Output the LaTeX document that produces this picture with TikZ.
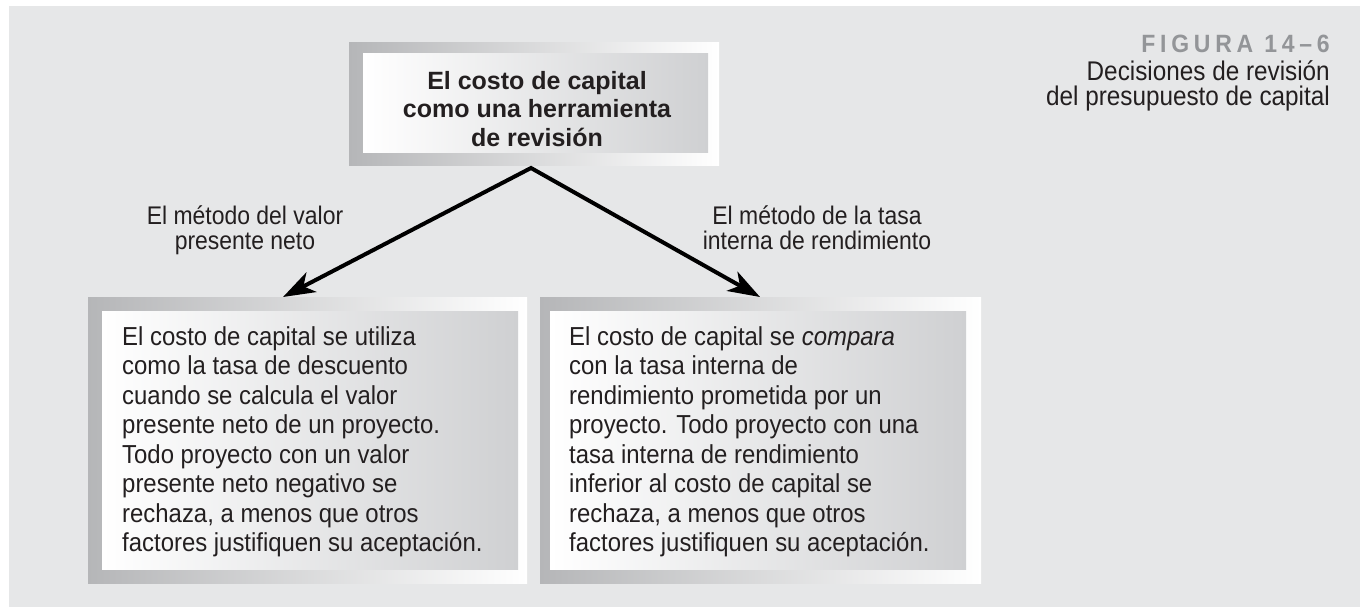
\documentclass[tikz,border=0pt]{standalone}
\usepackage{fontspec}
\setmainfont{Liberation Sans}
\usetikzlibrary{arrows.meta}
\definecolor{bggray}{HTML}{E6E7E8}
\definecolor{framedark}{HTML}{B5B6B8}
\definecolor{innergray}{HTML}{CFD0D2}
\definecolor{capgray}{HTML}{939598}
\definecolor{ink}{HTML}{231F20}
\newcommand{\topstrut}{\rule{0pt}{22pt}}
\begin{document}
\begin{tikzpicture}[x=1pt,y=-1pt,
  outerframe/.style={draw=none,inner sep=0pt,outer sep=0pt,left color=framedark,right color=white},
  innerbox/.style={draw=none,inner sep=0pt,outer sep=0pt,left color=white,right color=innergray},
  toptext/.style={inner sep=0pt,align=center,text=ink,font=\fontsize{25}{28.5}\bfseries\selectfont},
  bodytext/.style={inner sep=0pt,align=left,text=ink,font=\fontsize{26}{29.5}\addfontfeature{FakeStretch=0.92}\selectfont},
  labeltext/.style={inner sep=0pt,align=center,text=ink,font=\fontsize{25.5}{25}\addfontfeature{FakeStretch=0.9}\selectfont},
  figlabel/.style={inner sep=0pt,text=capgray,font=\fontsize{25}{25}\bfseries\addfontfeature{FakeStretch=0.92,LetterSpace=19}\selectfont},
  captext/.style={inner sep=0pt,text=ink,font=\fontsize{27}{25}\addfontfeature{FakeStretch=0.9}\selectfont},
  connector/.style={draw=black,line width=4pt,line join=miter,
    {Stealth[length=32pt,width=22pt,inset=9pt]}-{Stealth[length=32pt,width=22pt,inset=9pt]}}
]
\useasboundingbox (0,0) rectangle (1360,607);
\fill[bggray] (9,6) rectangle (1360,607);

% top box
\node[outerframe,minimum width=370pt,minimum height=122pt] (topframe) at (534,104) {};
\node[innerbox,minimum width=345pt,minimum height=99pt] (topinner) at (535.5,103.5) {};
\node[toptext,anchor=north] (toptxt) at (537,67) {\topstrut El costo de capital\\como una herramienta\\de revisión};

% left box
\node[outerframe,minimum width=439pt,minimum height=286pt] (leftframe) at (307.5,440) {};
\node[innerbox,minimum width=416pt,minimum height=258pt] (leftinner) at (310,440) {};
\node[bodytext,anchor=north west] (lefttxt) at (122,323) {\topstrut El costo de capital se utiliza\\como la tasa de descuento\\cuando se calcula el valor\\presente neto de un proyecto.\\Todo proyecto con un valor\\presente neto negativo se\\rechaza, a menos que otros\\factores justifiquen su aceptación.};

% right box
\node[outerframe,minimum width=441pt,minimum height=286pt] (rightframe) at (760.5,440) {};
\node[innerbox,minimum width=416pt,minimum height=258pt] (rightinner) at (758,440) {};
\node[bodytext,anchor=north west] (righttxt) at (569,323) {\topstrut El costo de capital se \textit{compara}\\con la tasa interna de\\rendimiento prometida por un\\proyecto. Todo proyecto con una\\tasa interna de rendimiento\\inferior al costo de capital se\\rechaza, a menos que otros\\factores justifiquen su aceptación.};

% labels
\node[labeltext,anchor=north] (leftlabel) at (245,202) {\topstrut El método del valor\\presente neto};
\node[labeltext,anchor=north] (rightlabel) at (817,202) {\topstrut El método de la tasa\\interna de rendimiento};

% connectors
\coordinate (apex) at (531,168);
\coordinate (tipL) at (283,297);
\coordinate (tipR) at (760,297);
\draw[connector] (tipL) -- (apex) -- (tipR);

% caption
\node[figlabel,anchor=base east] (figno) at (1330,53) {FIGURA 14–6};
\node[captext,anchor=base east] (cap1) at (1330,81) {Decisiones de revisión};
\node[captext,anchor=base east] (cap2) at (1330,106) {del presupuesto de capital};
\end{tikzpicture}
\end{document}
